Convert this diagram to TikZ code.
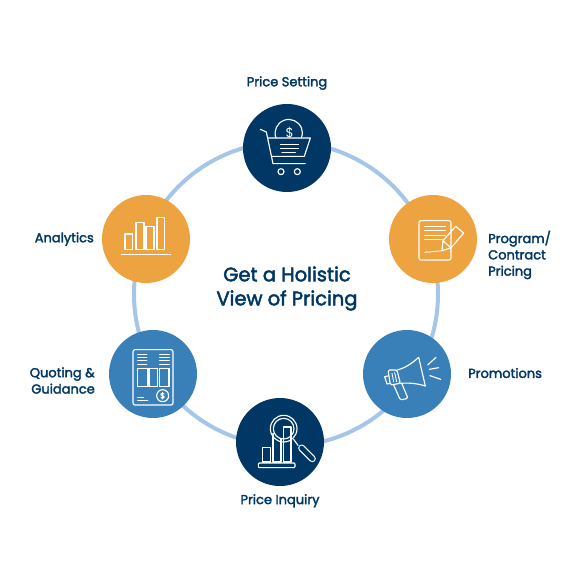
\documentclass[tikz,border=0pt]{standalone}
\usepackage{fontspec}
\setmainfont{Poppins}[BoldFont=Poppins, BoldFeatures={FakeBold=2.4}]
\usetikzlibrary{positioning}
\definecolor{navy}{HTML}{003764}
\definecolor{amber}{HTML}{EDA33F}
\definecolor{midblue}{HTML}{3A80B8}
\definecolor{ringblue}{HTML}{A5C6E8}
\begin{document}
\begin{tikzpicture}[
    x=1pt,
    y=-1pt,
    ringline/.style={draw=ringblue, circle, line width=4pt, minimum size=304pt, inner sep=0pt},
    stepdisc/.style={circle, minimum size=88pt, inner sep=0pt},
    steplabel/.style={text=navy, font=\fontsize{13}{16.3}\selectfont\bfseries, inner sep=0pt, align=center},
    titletext/.style={text=navy, font=\fontsize{19.5}{24}\selectfont\bfseries, inner sep=0pt, align=center},
    icon/.style={x=0.3333pt, y=-0.3333pt, draw=white, line width=1.15pt, line join=round, line cap=round},
    thinline/.style={draw=white, line width=0.9pt}
]
\useasboundingbox (0,0) rectangle (584,584);

% ring and discs
\node[ringline] (ring) at (286,294) {};
\node[stepdisc, fill=navy]    (setting)   at (287,148) {};
\node[stepdisc, fill=amber]   (contract)  at (433,239) {};
\node[stepdisc, fill=midblue] (promo)     at (407,374) {};
\node[stepdisc, fill=navy]    (inquiry)   at (280,442) {};
\node[stepdisc, fill=midblue] (quoting)   at (153,374) {};
\node[stepdisc, fill=amber]   (analytics) at (146,239) {};

% labels
\node[titletext] (title) at (287,288.5) {Get a Holistic\\View of Pricing};
\node[steplabel, above=58pt of setting.center] (settinglabel) {Price Setting};
\node[steplabel, align=left, anchor=west] (contractlabel) at (488,255) {Program/\\Contract\\Pricing};
\node[steplabel, anchor=west] (promolabel) at (468,373) {Promotions};
\node[steplabel, below=52pt of inquiry.center] (inquirylabel) {Price Inquiry};
\node[steplabel, align=right, anchor=east] (quotinglabel) at (95,380.5) {Quoting \&\\Guidance};
\node[steplabel, anchor=east] (analyticslabel) at (94,239) {Analytics};

% cart
\begin{scope}[shift={(setting.center)}, icon]
  \draw (-80,-56) -- (-62,-48) -- (-42,47) -- (55,47);
  \draw (-57,-30) -- (70,-30) -- (52,25) -- (-47,25);
  \draw (-33,-30) arc[start angle=159, end angle=381, radius=41];
  \node[text=white, inner sep=0pt, font=\fontsize{13}{13}\selectfont] (cartdollar) at (8,-46) {\$};
  \draw (-20,-11) -- (35,-11) (-20,2) -- (35,2) (-15,14) -- (25,14);
  \draw (-18,71) circle[radius=9] (31,71) circle[radius=9];
\end{scope}

% contract and pencil
\begin{scope}[shift={(contract.center)}, icon]
  \draw[rounded corners=2pt] (-42,-55) rectangle (54,63);
  \draw[thinline] (-25,-38) -- (37,-38) (-25,-25) -- (37,-25) (-25,-11) -- (37,-11) (-25,2) -- (28,2);
  \draw[thinline] (-25,41) .. controls (-15,34) and (-12,45) .. (-3,38) -- (30,35);
  \draw (68,-38) -- (92,-18) -- (54,27) -- (27,35) -- (30,5) -- cycle (30,5) -- (54,27);
\end{scope}

% megaphone
\begin{scope}[shift={(promo.center)}, icon]
  \draw (-30,-12) .. controls (-5,-18) and (15,-32) .. (35,-50) -- (55,36) .. controls (30,28) and (5,26) .. (-20,28);
  \draw[rounded corners=1.5pt] (-30,-12) -- (-57,-12) -- (-50,33) -- (-20,28) -- cycle;
  \draw (-57,6) -- (-67,8) -- (-60,30) -- (-51,28);
  \draw[thinline] (-45,-2) -- (-40,23) (-37,-4) -- (-31,23);
  \draw[rounded corners=1.5pt] (-40,33) -- (-20,78) -- (3,73) -- (-15,30);
  \draw (62,-27) -- (87,-50) (67,-14) -- (95,-19) (69,5) -- (101,16);
\end{scope}

% magnifier over bars
\begin{scope}[shift={(inquiry.center)}, icon]
  \draw[rounded corners=1pt] (-65,63) rectangle (45,77);
  \draw (-52,60) -- (-52,17) -- (-29,17) -- (-29,60) -- cycle;
  \draw (-21,60) -- (-21,-25) (3,-10) -- (3,60) -- (-21,60);
  \draw (10,60) -- (10,-45) -- (33,-45) -- (33,60) -- cycle;
  \draw (11,-40) circle[radius=40] (11,-40) circle[radius=31];
  \draw (41,-8) -- (54,10);
  \draw[line width=7pt] (65,18) -- (97,50);
  \draw[draw=navy, line width=4.7pt] (65,18) -- (97,50);
\end{scope}

% quote sheet
\begin{scope}[shift={(quoting.center)}, icon]
  \draw[rounded corners=2pt] (-60,-73) rectangle (60,93);
  \draw[thinline] (-46,-60) -- (-18,-60) (-46,-50) -- (-18,-50) (-46,-40) -- (-18,-40) (-46,-30) -- (-18,-30);
  \draw[thinline] (20,-60) -- (49,-60) (20,-50) -- (49,-50) (20,-40) -- (49,-40) (20,-30) -- (49,-30);
  \draw (-46,-17) rectangle (-17,38) (-12,-17) rectangle (14,38) (19,-17) rectangle (48,38);
  \draw (29,65) circle[radius=18];
  \node[text=white, inner sep=0pt, font=\fontsize{8}{8}\selectfont\bfseries] (quotedollar) at (29,65) {\$};
  \draw[thinline] (-46,69) -- (-28,69) (-46,79) -- (-15,79);
\end{scope}

% bar chart
\begin{scope}[shift={(analytics.center)}, icon]
  \draw (-63,-15) rectangle (-41,31);
  \draw (-30,-50) rectangle (-6,31);
  \draw (0,-38) rectangle (24,31);
  \draw (33,-65) rectangle (56,31);
  \draw (-74,46) -- (74,46);
\end{scope}
\end{tikzpicture}
\end{document}
